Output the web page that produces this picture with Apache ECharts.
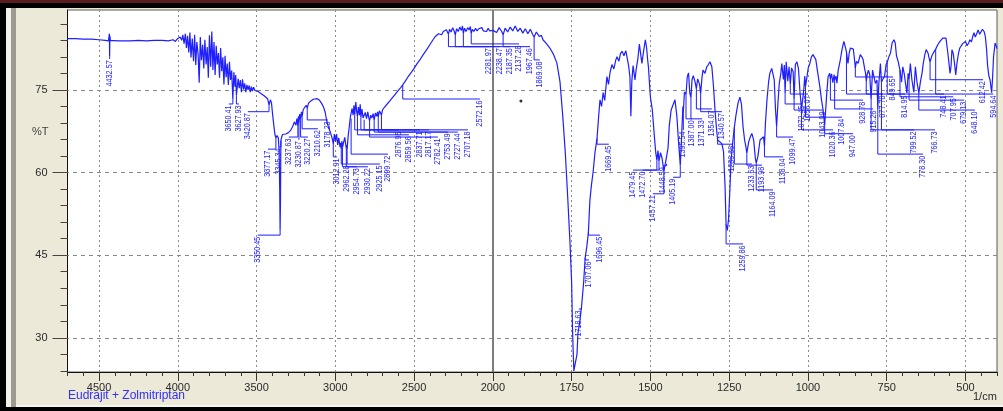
<!DOCTYPE html>
<html>
<head>
<meta charset="utf-8">
<script src="https://cdn.jsdelivr.net/npm/echarts@6/dist/echarts.min.js"></script>
<style>
html,body{margin:0;padding:0;width:1003px;height:411px;overflow:hidden;background:#000;}
#cap{position:absolute;left:0;top:0;width:1003px;height:3px;background:#5a1c1c;}
#bevel{position:absolute;left:6px;top:8px;width:10px;bottom:4px;background:linear-gradient(to right,#f2f1ec 0,#f2f1ec 5px,#9d9a8e 5px,#9d9a8e 10px);}
#panel{position:absolute;left:16px;top:8px;right:0;bottom:4px;background:#ece9d8;border-bottom:2px solid #f6f5ef;}
#chart{position:absolute;left:0;top:0;width:1003px;height:411px;}
</style>
</head>
<body>
<div id="cap"></div>
<div id="bevel"></div>
<div id="panel"></div>
<div id="chart"></div>
<script>
// Transmittance trace, [wavenumber (1/cm), %T], highest wavenumber first
const baseline4700 = [
  [4700, 84.3], [4650, 84.3], [4600, 84.2], [4550, 84.2], [4500, 84.1], [4460, 84.0],
  [4440, 83.9], [4436, 84.1], [4434, 85.2], [4432.57, 81.0], [4431, 84.8], [4428, 84.0],
  [4420, 83.8], [4380, 83.9], [4300, 83.9], [4250, 84.0], [4200, 83.9], [4150, 84.0],
  [4100, 84.0], [4060, 83.9], [4030, 84.1], [4015, 83.8], [4005, 84.2]
];
const vapour4000 = [
  [3995, 84.1], [3985, 84.6], [3975, 84.0], [3968, 85.0], [3960, 83.4], [3952, 85.2],
  [3945, 82.6], [3938, 84.8], [3930, 81.8], [3923, 85.4], [3916, 80.9], [3908, 84.3],
  [3900, 80.2], [3893, 85.0], [3886, 79.5], [3879, 83.7], [3871, 81.5], [3864, 76.3],
  [3857, 84.6], [3850, 80.4], [3842, 83.2], [3835, 78.9], [3828, 84.1], [3820, 79.6],
  [3813, 82.8], [3806, 77.2], [3799, 84.9], [3791, 79.2], [3784, 85.6], [3777, 78.6],
  [3770, 83.7], [3763, 77.7], [3756, 83.0], [3749, 79.6], [3742, 81.7], [3735, 77.2],
  [3728, 82.6], [3721, 78.4], [3714, 80.9], [3707, 76.0], [3700, 81.2], [3693, 77.3],
  [3686, 79.8], [3679, 75.9], [3672, 80.1], [3665, 76.8], [3658, 78.5], [3650.41, 73.3],
  [3644, 78.2], [3637, 75.6], [3632, 77.7], [3627.93, 74.0], [3617, 77.0], [3610, 75.3],
  [3603, 76.8], [3596, 74.6], [3589, 76.9], [3582, 75.1], [3575, 76.2], [3568, 74.6],
  [3561, 75.9], [3554, 75.0], [3547, 75.8], [3540, 74.6], [3533, 75.6], [3526, 74.8],
  [3519, 75.5], [3510, 74.9]
];
const nh3500 = [
  [3500, 75.2], [3490, 74.7], [3480, 75.0], [3470, 74.3], [3460, 74.6], [3450, 73.9],
  [3440, 74.2], [3430, 73.4], [3420.87, 72.3], [3412, 73.2], [3405, 72.6], [3398, 70.5],
  [3390, 68.5], [3384, 67.0], [3377.17, 66.3], [3370, 66.7], [3362, 66.3], [3357, 64.0],
  [3353, 57.0], [3350.45, 49.5], [3348, 55.0], [3346.5, 62.0], [3345.34, 65.8],
  [3340, 66.5], [3335, 66.9]
];
const ch3300 = [
  [3330, 66.8], [3315, 67.0], [3300, 67.2], [3285, 67.6], [3270, 68.4], [3260, 69.2],
  [3250, 68.6], [3244, 69.8], [3237.63, 68.4], [3234, 70.2], [3230.87, 69.0], [3226, 70.6],
  [3220.27, 69.6], [3215, 71.0], [3210.62, 70.2], [3204, 71.4], [3195, 71.8], [3185, 72.2],
  [3178.23, 71.7], [3170, 72.6], [3155, 73.0], [3140, 73.3], [3128, 73.5], [3115, 73.4],
  [3100, 73.1], [3088, 72.6], [3075, 71.9], [3064, 70.9], [3055, 69.4], [3045, 68.4],
  [3035, 67.6], [3025, 66.7], [3018, 66.0], [3012.91, 65.2], [3006, 67.0], [2999, 65.6],
  [2992, 67.0], [2985, 65.0], [2978, 66.3], [2970, 64.6], [2965, 65.4], [2962.28, 64.2],
  [2958, 65.7], [2954.73, 64.5], [2948, 65.4], [2940, 66.4], [2934, 65.1], [2930.22, 64.4],
  [2927, 65.0], [2925.15, 64.2], [2918, 66.8], [2911, 68.4], [2905, 70.0], [2899.72, 69.8],
  [2894, 71.6], [2887, 70.4], [2882, 72.2], [2876.95, 70.5], [2870, 72.8], [2864, 71.0],
  [2859.56, 70.2], [2853, 71.9], [2847, 70.4], [2842, 72.4], [2837.71, 70.0], [2831, 71.5],
  [2824, 69.9], [2817.17, 69.6], [2810, 70.9], [2802, 69.8], [2794, 71.0], [2788, 70.0],
  [2782.41, 69.4], [2775, 70.4], [2768, 69.9], [2760, 70.7], [2753.49, 69.5], [2746, 70.8],
  [2738, 70.2], [2732, 71.0], [2727.44, 70.1], [2720, 71.2], [2713, 70.8], [2707.18, 70.4],
  [2700, 71.4]
];
const slope2700 = [
  [2690, 71.8], [2680, 72.1], [2660, 72.8], [2640, 73.5], [2620, 74.2], [2600, 74.9],
  [2585, 75.4], [2572.16, 75.9], [2560, 76.4], [2540, 77.3], [2520, 78.1], [2500, 78.9],
  [2480, 79.8], [2460, 80.6], [2440, 81.5], [2420, 82.3], [2400, 83.2], [2380, 84.1],
  [2365, 84.7]
];
const plateau2350 = [
  [2357, 85.0], [2345, 85.2], [2335, 85.4], [2325, 85.0], [2315, 85.6], [2305, 85.3],
  [2295, 85.9], [2288, 86.2], [2281.97, 85.1], [2275, 86.0], [2265, 85.5], [2255, 86.3],
  [2246, 85.7], [2238.47, 85.0], [2230, 86.1], [2220, 85.6], [2210, 86.4], [2200, 85.8],
  [2193, 86.6], [2187.35, 85.2], [2180, 86.2], [2170, 85.6], [2160, 86.3], [2150, 85.9],
  [2143, 86.5], [2137.28, 85.2], [2130, 86.0], [2120, 85.6], [2110, 86.2], [2100, 85.7],
  [2090, 86.1], [2080, 85.8], [2070, 86.3], [2060, 85.7], [2050, 86.0], [2040, 85.6],
  [2030, 86.2], [2020, 85.7], [2010, 86.0], [2000, 85.8]
];
const carbonyl2000 = [
  [1995, 86.1], [1988, 85.4], [1980, 86.3], [1972, 85.6], [1967.46, 85.0], [1961, 86.2],
  [1953, 85.5], [1945, 86.4], [1937, 85.7], [1929, 86.6], [1921, 85.6], [1913, 86.2],
  [1905, 85.3], [1897, 86.1], [1889, 85.2], [1881, 86.0], [1874, 85.1], [1869.08, 84.6],
  [1862, 85.5], [1853, 84.7], [1846, 84.9], [1841, 84.1], [1830, 83.4], [1819, 82.6],
  [1808, 81.5], [1797, 79.9], [1787, 76.5], [1778, 70.1], [1770, 63.5], [1762, 55.0],
  [1755, 47.0], [1750, 40.0], [1747, 31.0], [1743, 24.0], [1738, 24.3], [1733, 27.0],
  [1730, 30.8], [1724, 33.0], [1718.63, 35.6], [1712, 40.0], [1707.06, 44.5], [1702, 46.5],
  [1698, 48.5], [1696.45, 49.6], [1692, 55.0], [1687, 57.8], [1682, 60.0], [1676, 63.6],
  [1669.45, 66.2], [1664, 70.4], [1660, 73.2], [1655, 72.0], [1650, 74.5], [1645, 73.1],
  [1638, 77.4], [1633, 76.0], [1628, 78.2], [1622, 79.6], [1616, 78.8], [1610, 80.4],
  [1606, 81.0], [1600, 80.2], [1595, 81.6], [1590, 82.0], [1584, 81.2], [1578, 82.1],
  [1573, 80.6], [1569, 79.3], [1565, 77.4], [1562, 70.2], [1559, 76.5], [1555, 79.4],
  [1549, 76.8], [1545, 78.8], [1540, 80.6], [1535, 83.3], [1531, 83.0], [1527, 79.8],
  [1522, 81.9], [1516, 84.1], [1512, 82.6], [1509, 80.6], [1506, 79.0], [1503, 76.2]
];
const fingerprint1500 = [
  [1500, 73.7], [1494, 71.4], [1488, 67.0], [1483, 63.6], [1479.45, 62.2], [1476, 64.0],
  [1472.70, 62.0], [1468, 63.6], [1463, 62.6], [1457.21, 60.3], [1452, 61.8], [1448.59, 61.6],
  [1444, 64.5], [1440, 68.6], [1434, 71.4], [1428, 72.3], [1422, 73.2], [1416, 70.2],
  [1411, 65.8], [1405.19, 61.3], [1401, 66.5], [1397, 72.0], [1395.54, 71.0], [1392, 74.6],
  [1387.00, 74.2], [1383, 77.4], [1379, 78.1], [1375, 74.4], [1371.33, 73.6], [1368, 76.8],
  [1364, 77.6], [1358, 76.4], [1354.07, 75.2], [1350, 77.0], [1344, 76.0], [1340.57, 74.3],
  [1336, 77.4], [1333, 78.6], [1327, 78.0], [1321, 79.2], [1316, 79.6], [1311, 80.1],
  [1305, 79.2], [1300, 75.8], [1295, 71.4], [1290, 67.8], [1286.66, 65.9], [1280, 65.6],
  [1273, 65.2], [1268, 63.8], [1263, 57.4], [1259.86, 50.6], [1256, 49.5], [1252, 51.5],
  [1248, 56.6], [1244, 62.3], [1238, 65.9], [1233.63, 68.2], [1229, 70.2], [1222, 72.6],
  [1216, 73.7], [1211, 72.4], [1206, 68.3], [1201, 65.9], [1197, 64.7], [1193.98, 63.5],
  [1188, 65.6], [1182, 66.6], [1178, 67.1], [1172, 65.8], [1167, 62.6], [1164.09, 61.7],
  [1159, 62.9], [1152, 65.9], [1146, 66.2], [1141, 66.5], [1138.04, 64.8], [1135, 68.9],
  [1130, 73.2], [1125, 76.4], [1121, 78.0], [1115, 78.9], [1111, 78.6], [1107, 76.8],
  [1103, 71.5], [1099.47, 68.3], [1095, 72.8], [1091, 76.2], [1086, 78.0], [1083, 79.8],
  [1078, 76.9], [1075, 79.5], [1072.45, 74.3], [1069, 80.1], [1064, 76.6], [1060, 79.2],
  [1056.07, 76.0], [1052, 79.0], [1047, 78.3], [1043.99, 73.2], [1040, 79.6], [1035, 80.1],
  [1030, 78.8], [1025, 74.4], [1020.36, 71.6], [1016, 73.6], [1013, 75.2], [1010, 77.5],
  [1007.84, 75.6], [1003, 77.4], [999, 79.0], [994, 79.8], [989, 81.0], [984, 81.4],
  [979, 81.2], [975, 80.5], [970, 78.5], [966, 77.0], [962, 75.5], [957, 73.2],
  [952, 71.4], [947.00, 68.6], [943, 72.0], [940, 74.6], [936, 77.4], [931, 78.0],
  [928.78, 77.0], [925, 77.9], [921, 76.3], [917, 77.8], [915.26, 76.8], [911, 77.5],
  [908, 76.2], [904, 78.6], [898, 80.2], [892, 82.3], [886, 83.8], [882, 82.9],
  [877.78, 81.9], [873, 79.8], [869, 81.7], [865, 82.6], [860, 82.9], [856, 82.4],
  [852, 80.4], [849.65, 79.0], [846, 80.2], [841, 79.8], [838, 80.1], [834, 81.4],
  [829, 81.0], [825, 80.5], [820, 78.8], [817, 78.0], [814.95, 76.6], [812, 77.8],
  [808, 78.6], [804, 77.8], [799.52, 73.2], [795, 78.6], [790, 78.4], [786, 76.2],
  [781, 76.8], [778.30, 71.4], [775, 76.2], [770, 79.8], [766.73, 76.4], [762, 77.0],
  [757, 77.4], [752, 79.6], [748.41, 80.0], [744, 80.9], [738, 81.7], [733, 83.5],
  [727, 84.1], [723, 83.5], [719, 81.2], [713, 80.0], [707.95, 78.6], [703, 76.4],
  [699, 79.2], [694, 77.8], [690, 76.0], [686, 74.4], [682, 78.0], [679.13, 76.9],
  [675, 79.8], [670, 76.8], [664, 74.6], [659, 79.2], [654, 76.4], [648.10, 74.4],
  [643, 76.5], [638, 78.0], [634, 79.8], [629, 81.4], [625, 82.3], [619, 81.7],
  [616, 80.9], [612.42, 80.1], [606, 81.3], [600, 81.9], [594.64, 82.4], [588, 83.2],
  [581, 83.8], [572, 84.4], [562, 84.4], [556, 81.7], [549, 78.0], [546, 79.2],
  [543, 82.3], [539, 81.6], [535, 79.9], [531, 77.7], [527, 79.9], [522, 81.7],
  [518, 82.6], [514, 82.9], [509, 83.4], [505, 83.2], [500, 83.8], [495, 83.0],
  [490, 83.5], [486, 84.1], [481, 83.7], [477, 84.7], [473, 85.4], [469, 84.6],
  [465, 85.1], [460, 85.9], [455, 85.1], [451, 85.3], [446, 86.0], [441, 85.6],
  [437, 84.7], [433, 82.3], [430, 79.5], [426, 77.6], [422, 76.8], [417, 74.5],
  [414, 77.2], [411, 81.0], [406, 83.5], [402, 82.9], [400, 82.5]
];

// Peak list printed by the instrument software
const peakTags = [
  '4432.57', '3650.41', '3627.93', '3420.87', '3377.17', '3345.34', '3350.45', '3237.63',
  '3230.87', '3220.27', '3210.62', '3178.23', '3012.91', '2962.28', '2954.73', '2930.22',
  '2925.15', '2899.72', '2876.95', '2859.56', '2837.71', '2817.17', '2782.41', '2753.49',
  '2727.44', '2707.18', '2572.16', '2281.97', '2238.47', '2187.35', '2137.28', '1967.46',
  '1869.08', '1718.63', '1707.06', '1696.45', '1669.45', '1479.45', '1472.70', '1457.21',
  '1448.59', '1405.19', '1395.54', '1387.00', '1371.33', '1354.07', '1340.57', '1286.66',
  '1259.86', '1233.63', '1193.98', '1164.09', '1138.04', '1099.47', '1072.45', '1056.07',
  '1043.99', '1020.36', '1007.84', '947.00', '928.78', '915.26', '877.78', '849.65',
  '814.95', '799.52', '778.30', '766.73', '748.41', '707.95', '679.13', '648.10',
  '612.42', '594.64'
];
// Where each peak tag is printed: [wavenumber, %T] of the top of its text
const tagAnchor = [
  [4431, 80.8], [3676, 71.9], [3612, 71.9], [3555, 70.5], [3428, 63.7], [3358, 64.1],
  [3492, 48.1], [3295, 65.9], [3231, 65.4], [3174, 65.9], [3111, 67.4], [3047, 69.0],
  [2990, 62.3], [2927, 61.0], [2863, 60.5], [2793, 60.5], [2717, 61.0], [2666, 62.8],
  [2597, 67.2], [2533, 66.3], [2463, 67.2], [2406, 67.2], [2349, 65.9], [2285, 66.8],
  [2222, 66.8], [2158, 67.2], [2082, 72.8], [2025, 82.3], [1978, 82.3], [1946, 82.3],
  [1917, 82.8], [1882, 82.3], [1851, 79.9], [1727, 35.0], [1695, 43.7], [1660, 48.1],
  [1632, 64.6], [1555, 59.9], [1524, 59.9], [1492, 55.6], [1460, 61.9], [1428, 58.6],
  [1397, 67.2], [1368, 69.2], [1336, 69.2], [1305, 71.0], [1273, 70.5], [1241, 64.6],
  [1206, 46.5], [1178, 61.0], [1146, 60.8], [1111, 56.3], [1079, 62.3], [1047, 65.9],
  [1019, 71.9], [1000, 73.7], [952, 70.8], [920, 67.2], [892, 69.5], [857, 66.5],
  [825, 72.6], [793, 71.0], [762, 73.7], [730, 76.8], [692, 73.7], [663, 67.2],
  [635, 62.8], [597, 67.2], [568, 73.7], [539, 73.2], [505, 72.6], [470, 70.8],
  [444, 76.3], [412, 73.7]
];
// Stray cursor dot left on the plot
const cursorDot = [[1911, 73.0]];

const xTickLabels = [4500, 4000, 3500, 3000, 2500, 2000, 1750, 1500, 1250, 1000, 750, 500];
const yTickLabels = [30, 45, 60, 75];

const spectrum = [].concat(baseline4700, vapour4000, nh3500, ch3300, slope2700,
  plateau2350, carbonyl2000, fingerprint1500);

// The abscissa is printed at half scale above 2000 1/cm
const SPLIT = 2000;
const toAxis = w => (w <= SPLIT ? w : SPLIT + (w - SPLIT) / 2);
const fromAxis = u => (u <= SPLIT ? u : SPLIT + (u - SPLIT) * 2);

function traceAt(w) {
  for (let i = 0; i < spectrum.length - 1; i++) {
    const [w0, t0] = spectrum[i], [w1, t1] = spectrum[i + 1];
    if (w <= w0 && w >= w1) return w0 === w1 ? t0 : t0 + (t1 - t0) * (w0 - w) / (w0 - w1);
  }
  return spectrum[spectrum.length - 1][1];
}

const X_MIN = toAxis(400), X_MAX = toAxis(4700);
const Y_MIN = 23.8, Y_MAX = 89.5;
const minorX = [];
for (let u = X_MIN; u <= X_MAX; u += 50) minorX.push(u);
const minorY = [];
for (let v = 24; v <= 88; v += 3) minorY.push(v);
const majorX = xTickLabels.map(toAxis);

const BLUE = '#1e1eff';
const FONT = '"Liberation Sans", Arial, sans-serif';

const chart = echarts.init(document.getElementById('chart'), null, { renderer: 'canvas' });

const valueAxisX = (extra) => Object.assign({
  type: 'value', min: X_MIN, max: X_MAX, inverse: true, position: 'bottom',
  splitLine: { show: false }
}, extra);
const valueAxisY = (extra) => Object.assign({
  type: 'value', min: Y_MIN, max: Y_MAX, position: 'left',
  splitLine: { show: false }
}, extra);

chart.setOption({
  animation: false,
  backgroundColor: 'transparent',
  grid: {
    left: 67.5, top: 10, width: 929.5, height: 362,
    show: true, backgroundColor: '#ffffff', borderColor: '#5a5a5a', borderWidth: 1
  },
  xAxis: [
    valueAxisX({
      axisLine: { show: true, onZero: false, lineStyle: { color: '#111', width: 1 } },
      axisTick: { show: true, customValues: minorX, length: 4, lineStyle: { color: '#333' } },
      axisLabel: {
        customValues: majorX, margin: 10, color: '#2a2a2a', fontSize: 11, fontFamily: FONT,
        formatter: u => String(Math.round(fromAxis(u)))
      }
    }),
    valueAxisX({
      axisLine: { show: false },
      axisTick: { show: true, customValues: majorX, length: 9, lineStyle: { color: '#333' } },
      axisLabel: { show: false }
    })
  ],
  yAxis: [
    valueAxisY({
      axisLine: { show: true, onZero: false, lineStyle: { color: '#111', width: 1 } },
      axisTick: { show: true, customValues: minorY, length: 7, lineStyle: { color: '#444' } },
      axisLabel: { customValues: yTickLabels, margin: 20, color: '#2a2a2a', fontSize: 11, fontFamily: FONT }
    }),
    valueAxisY({
      axisLine: { show: false },
      axisTick: { show: true, customValues: yTickLabels, length: 15, lineStyle: { color: '#444' } },
      axisLabel: { show: false }
    })
  ],
  graphic: [
    { type: 'text', left: 68, top: 390, style: { text: 'Eudrajit + Zolmitriptan', fill: '#2f2fff', font: '12px ' + FONT } },
    { type: 'text', left: 973, top: 391, style: { text: '1/cm', fill: '#2a2a2a', font: '11px ' + FONT } },
    { type: 'text', left: 32, top: 126, style: { text: '%T', fill: '#444', font: '11px ' + FONT } }
  ],
  series: [
    {
      // chart grid lines
      type: 'line', data: [], z: 1, silent: true,
      markLine: {
        z: 1, silent: true, symbol: 'none', animation: false,
        label: { show: false }, emphasis: { disabled: true },
        data: [
          ...yTickLabels.map(v => ({ yAxis: v, lineStyle: { type: [4, 4], color: '#8a8a8a', width: 1 } })),
          ...xTickLabels.filter(w => w !== SPLIT).map(w => ({
            xAxis: toAxis(w), lineStyle: { type: [2, 3], color: '#8a8a8a', width: 1 }
          })),
          { xAxis: toAxis(SPLIT), lineStyle: { type: 'solid', color: '#7d7d7d', width: 2 } }
        ]
      }
    },
    {
      type: 'line', z: 3, silent: true, showSymbol: false, symbol: 'none',
      data: spectrum.map(([w, t]) => [toAxis(w), t]),
      lineStyle: { color: BLUE, width: 1.2 }
    },
    {
      type: 'custom', z: 4, silent: true, clip: false,
      data: peakTags.map((tag, i) => {
        const w = parseFloat(tag);
        return [toAxis(w), traceAt(w), toAxis(tagAnchor[i][0]), tagAnchor[i][1]];
      }),
      encode: { x: [0, 2], y: [1, 3] },
      renderItem(params, api) {
        const p = api.coord([api.value(0), api.value(1)]);
        const l = api.coord([api.value(2), api.value(3)]);
        const hy = Math.max(p[1] + 2, l[1] - 3);
        return {
          type: 'group',
          children: [
            {
              type: 'polyline',
              shape: { points: [p, [p[0], hy], [l[0], hy]] },
              style: { stroke: BLUE, lineWidth: 1, fill: null }
            },
            {
              type: 'text', x: l[0], y: hy + 1.5, rotation: Math.PI / 2, scaleX: 0.85,
              style: {
                text: peakTags[params.dataIndex], x: 0, y: 0,
                align: 'right', verticalAlign: 'middle',
                font: '8.5px ' + FONT, fill: BLUE
              }
            }
          ]
        };
      }
    },
    {
      type: 'scatter', z: 4, silent: true, symbolSize: 3,
      data: cursorDot.map(([w, t]) => [toAxis(w), t]),
      itemStyle: { color: '#000' }
    }
  ]
});
</script>
</body>
</html>
